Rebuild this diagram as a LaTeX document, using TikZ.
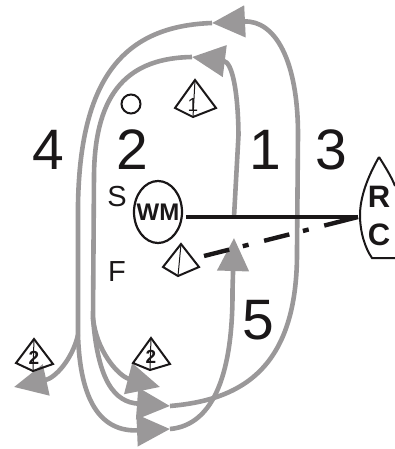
\documentclass[tikz,border=0pt]{standalone}
\usepackage{fontspec}
\setmainfont{Liberation Sans}
\usetikzlibrary{arrows.meta,shapes.geometric}
\definecolor{leg}{HTML}{9A9899}
\definecolor{ink}{HTML}{1A1718}
\tikzset{
  legline/.style={draw=leg,line width=4.6pt,line join=round,-{Triangle[length=33pt,width=31pt,fill=leg]}},
  plainleg/.style={draw=leg,line width=4.6pt,line join=round},
  bignum/.style={font=\fontsize{57}{57}\selectfont,text=ink,inner sep=0pt},
  smallmark/.style={font=\fontsize{29}{29}\selectfont,text=ink,inner sep=0pt},
  buoy/.style={draw=ink,line width=2pt,line join=miter},
  buoynum/.style={font=\bfseries\fontsize{19}{19}\selectfont,text=ink,inner sep=0pt},
  boatnum/.style={font=\bfseries\fontsize{31}{31}\selectfont,text=ink,inner sep=0pt},
}
\begin{document}
\begin{tikzpicture}[x=1pt,y=-1pt]
\useasboundingbox (0,0) rectangle (395,449);
% named points
\coordinate (lineA) at (234,217);
\coordinate (top1) at (192,57);
\coordinate (top2) at (212,23);
\coordinate (split1) at (93,318);
\coordinate (split2) at (78,335);
\coordinate (gate1) at (160,387);
\coordinate (gate2) at (170,406);
\coordinate (gate3) at (170,429);
\coordinate (left) at (14,387);
\coordinate (finish) at (234,238);
\coordinate (lineStart) at (186,217);
\coordinate (rc) at (358,217);
\coordinate (pin) at (204,256);
% legs
\path[legline] (lineA) -- (238.5,135) .. controls (238,90) and (232,62) .. (top1);
\path[plainleg] (top1) .. controls (130,58) and (95,90) .. (94,175) -- (split1);
\path[legline] (split1) .. controls (96,350) and (118,376) .. (gate1);
\path[legline] (split1) .. controls (98,382) and (115,402) .. (gate2);
\path[legline] (gate2) .. controls (240,400) and (298,370) .. (297,250) -- (298,135) .. controls (298,60) and (275,20) .. (top2);
\path[plainleg] (top2) .. controls (130,26) and (80,70) .. (78,205) -- (split2);
\path[legline] (split2) .. controls (72,360) and (55,378) .. (left);
\path[legline] (split2) .. controls (80,400) and (100,432) .. (gate3);
\path[legline] (gate3) .. controls (215,425) and (233,370) .. (232.5,290) -- (finish);
% course lines
\draw[ink,line width=4.4pt] (lineStart) -- (rc);
\draw[ink,line width=4.4pt,dash pattern=on 26pt off 14pt on 6pt off 16pt on 26pt off 14pt on 6pt off 16pt on 40pt] (pin) -- (rc);
% committee mark
\node[ellipse,draw=ink,line width=2.2pt,minimum width=48pt,minimum height=62pt,inner sep=0pt] (wm) at (158,212) {};
\node[text=ink,inner sep=0pt,font=\bfseries\fontsize{24}{24}\selectfont] (wmtext) at (wm.center) {WM};
% boat
\draw[ink,line width=2pt] (379,157) .. controls (367,178) and (360,198) .. (360,215) .. controls (360,232) and (365,248) .. (372,258) -- (395,258);
\draw[ink,line width=2pt] (379,157) .. controls (386,168) and (392,178) .. (395,186);
\node[boatnum] (boatR) at (379,197) {R};
\node[boatnum] (boatC) at (379,235) {C};
% buoys
\draw[buoy] (181,244) -- (163,267) -- (178,276) -- (199,267) -- cycle;
\draw[ink,line width=1pt] (181,244) -- (178,276);
\draw[buoy] (195,80) -- (175,108) -- (193,117) -- (216,108) -- cycle;
\draw[ink,line width=1pt] (195,80) -- (193,117);
\node[font=\fontsize{19}{19}\selectfont,text=ink,inner sep=0pt] (m1) at (193,105) {1};
\draw[buoy] (34,339) -- (16,363) -- (33,371) -- (53,364) -- cycle;
\draw[ink,line width=1pt] (34,339) -- (33,371);
\node[buoynum] (m2a) at (34,358) {2};
\draw[buoy] (151,338) -- (133,363) -- (150,370) -- (170,364) -- cycle;
\draw[ink,line width=1pt] (151,338) -- (150,370);
\node[buoynum] (m2b) at (151,357) {2};
\node[circle,draw=ink,line width=2pt,minimum size=19pt,inner sep=0pt] (o) at (131,104) {};
% labels
\node[bignum] (n4) at (48,150) {4};
\node[bignum] (n2) at (132,150) {2};
\node[bignum] (n1) at (265,150) {1};
\node[bignum] (n3) at (331,150) {3};
\node[bignum] (n5) at (258,320) {5};
\node[smallmark] (s) at (117,197) {S};
\node[smallmark] (f) at (117,272) {F};
\end{tikzpicture}
\end{document}
